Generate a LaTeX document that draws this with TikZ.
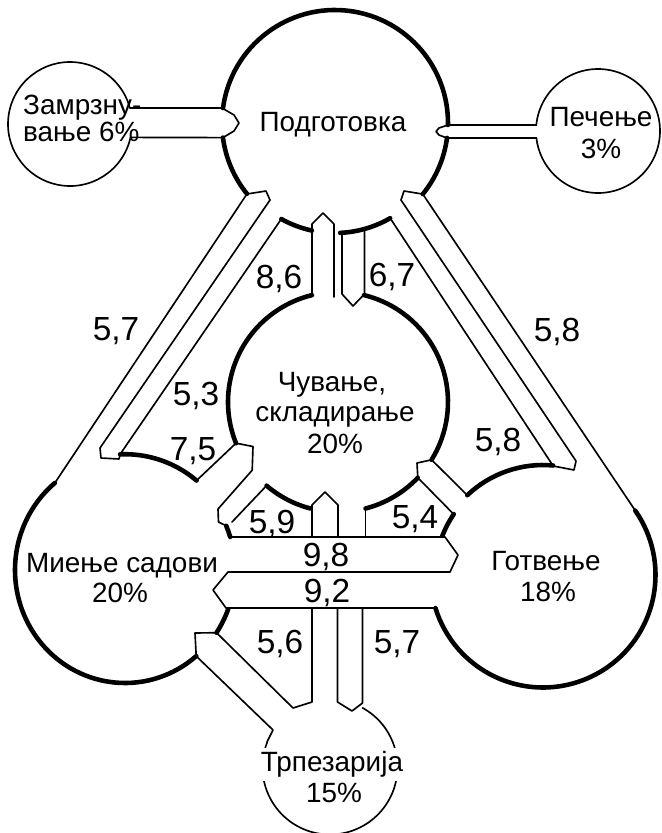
\documentclass[tikz,border=0pt]{standalone}
\usepackage{fontspec}
\setmainfont{Liberation Sans}
\begin{document}
\begin{tikzpicture}[x=0.03cm,y=-0.03cm,
  wall/.style={line width=1.4pt, line join=round, line cap=round},
  rim/.style={line width=3.9pt, line cap=round},
  lbl/.style={font=\fontsize{23.8}{26}\selectfont, inner sep=0pt, anchor=base},
  num/.style={font=\fontsize{28.5}{30}\selectfont, inner sep=0pt, anchor=base}]
\useasboundingbox (0,0) rectangle (661,833);
% centres
\coordinate (P) at (335,123);   % Подготовка
\coordinate (Z) at (70,124);    % Замрзнување
\coordinate (E) at (598,131);   % Печење
\coordinate (C) at (338,402);   % Чување
\coordinate (M) at (125,570);   % Миење садови
\coordinate (G) at (543,575);   % Готвење
\coordinate (T) at (330,767);   % Трпезарија

% ---------- Замрзнување ----------
\draw[wall] (Z) ++(12.5:62) arc[start angle=12.5,end angle=345,radius=62];
\draw[wall] (129.9,108) -- (222,108) -- (234,115) -- (239,123) -- (234,131) -- (223,137.6) -- (130.5,137.4);

% ---------- Подготовка ----------
\draw[rim] (P) ++(141.2:113) arc[start angle=141.2,end angle=172.6,radius=113];
\draw[rim] (P) ++(187.6:113) arc[start angle=187.6,end angle=361,radius=113];
\draw[rim] (P) ++(7.6:113) arc[start angle=7.6,end angle=39,radius=113];
\draw[rim] (P) ++(102.1:110) arc[start angle=102.1,end angle=119.2,radius=110];
\draw[rim] (P) ++(59.9:110) arc[start angle=59.9,end angle=87.3,radius=110];

% ---------- Печење ----------
\draw[wall] (E) ++(185.55:62) arc[start angle=185.55,end angle=533.5,radius=62];
\draw[wall] (448,125) -- (536.3,125);
\draw[wall] (447,138) -- (536.4,138);
\draw[wall] (448,125) -- (439,128) -- (436,131.5) -- (439,135) -- (447,138);

% ---------- left diagonal ----------
\draw[wall] (270,200) -- (266,191) -- (246.9,194) -- (54.9,482.9);
\draw[wall] (270,200) -- (100,448) -- (101,458) -- (119,459) -- (120.1,454.3) -- (281.3,219);
\draw[rim] (M) ++(267.5:112.8 and 115.8) arc[start angle=267.5,end angle=309.4,x radius=112.8,y radius=115.8];

% ---------- right diagonal ----------
\draw[wall] (401,200) -- (404,191) -- (422.8,194.1) -- (635.3,510.6);
\draw[wall] (401,200) -- (576,461) -- (574,470) -- (553.2,466) -- (390.2,218.2);
\draw[rim] (G) ++(-133.5:110) arc[start angle=-133.5,end angle=-84.7,radius=110];

% ---------- Чување ----------
\draw[rim] (C) ++(158:110) arc[start angle=158,end angle=256.3,radius=110];
\draw[rim] (C) ++(-76.3:110) arc[start angle=-76.3,end angle=31.7,radius=110];
\draw[rim] (C) ++(104.5:110) arc[start angle=104.5,end angle=130.5,radius=110];
\draw[rim] (C) ++(43.5:110) arc[start angle=43.5,end angle=75.5,radius=110];

% top channels
\draw[wall] (312,295) -- (312,224) -- (323,213) -- (334,224) -- (334,297);
\draw[wall] (342,233) -- (342,294) -- (353,306) -- (364.5,294) -- (364.5,229);

% lower-left channel
\draw[wall] (236,443.2) -- (196.6,480.5);
\draw[wall] (236,443.2) -- (253,446.5) -- (252.2,470.2) -- (218,509) -- (218.5,522) -- (226.3,525.8);
\draw[wall] (266.6,485.6) -- (232,522);
\draw[rim] (M) ++(-23:110 and 113) arc[start angle=-23,end angle=-17,x radius=110,y radius=113];

% lower-right channel
\draw[wall] (431.6,459.8) -- (467.3,495.2);
\draw[wall] (431.6,459.8) -- (417,463) -- (417.8,477.7) -- (453.7,514.2);
\draw[rim] (G) ++(-158.8:108) arc[start angle=-158.8,end angle=-145.7,radius=108];

% bottom centre
\draw[wall] (312,537) -- (312,505) -- (325,492) -- (338,505) -- (338,537);
\draw[wall] (365.5,508.5) -- (365.5,537);

% 9,8 and 9,2 channels
\draw[wall] (230.2,537) -- (445,537) -- (458,555) -- (450,572) -- (228,572) -- (213,590) -- (226,608) -- (435.5,608);

% ---------- Миење садови ----------
\draw[rim] (M) ++(49.6:110 and 113) arc[start angle=49.6,end angle=230.4,x radius=110,y radius=113];
\draw[rim] (M) ++(20.3:110 and 113) arc[start angle=20.3,end angle=33.7,x radius=110,y radius=113];

% ---------- Готвење ----------
\draw[rim] (G) ++(-34.9:112.5) arc[start angle=-34.9,end angle=162.9,radius=112.5];

% ---------- Трпезарија ----------
\draw[wall] (216.5,632.7) -- (195,633) -- (196.2,656.1);
\draw[wall] (216.5,632.7) -- (293,708) -- (312,702) -- (312,608);
\draw[wall] (196.2,656.1) -- (273,730) -- (267,742);
\draw[wall] (337.5,608) -- (337.5,702) -- (352,711) -- (362.5,703) -- (362.5,608);
\draw[wall] (T) ++(-61.2:67.5) arc[start angle=-61.2,end angle=201.6,radius=67.5];

% ---------- labels ----------
\node[lbl,anchor=base west] (zam1) at (23,114.5) {Замрзну-};
\node[lbl,anchor=base west] (zam2) at (23,141.5) {вање 6\%};
\node[lbl] (pod) at (333,131.5) {Подготовка};
\node[lbl] (pec1) at (601,126.5) {Печење};
\node[lbl] (pec2) at (601,158) {3\%};
\node[lbl] (cuv1) at (332,391.5) {Чување,};
\node[lbl] (cuv2) at (335,421) {складирање};
\node[lbl] (cuv3) at (335,453) {20\%};
\node[lbl] (mie1) at (122,572) {Миење садови};
\node[lbl] (mie2) at (120,602) {20\%};
\node[lbl] (got1) at (546,570) {Готвење};
\node[lbl] (got2) at (548,601) {18\%};
\node[lbl,fill=white,inner ysep=3pt] (trp1) at (332,771.5) {Трпезарија};
\node[lbl] (trp2) at (334,802) {15\%};

\node[num] (n1) at (116,340) {5,7};
\node[num] (n2) at (196,405) {5,3};
\node[num] (n3) at (193,460) {7,5};
\node[num] (n4) at (279,288) {8,6};
\node[num] (n5) at (392,286) {6,7};
\node[num] (n6) at (557,341) {5,8};
\node[num] (n7) at (498,451) {5,8};
\node[num] (n8) at (272,533) {5,9};
\node[num] (n9) at (415,528) {5,4};
\node[num] (n10) at (326,566) {9,8};
\node[num] (n11) at (327,602) {9,2};
\node[num] (n12) at (280,653) {5,6};
\node[num] (n13) at (397,653) {5,7};
\end{tikzpicture}
\end{document}
